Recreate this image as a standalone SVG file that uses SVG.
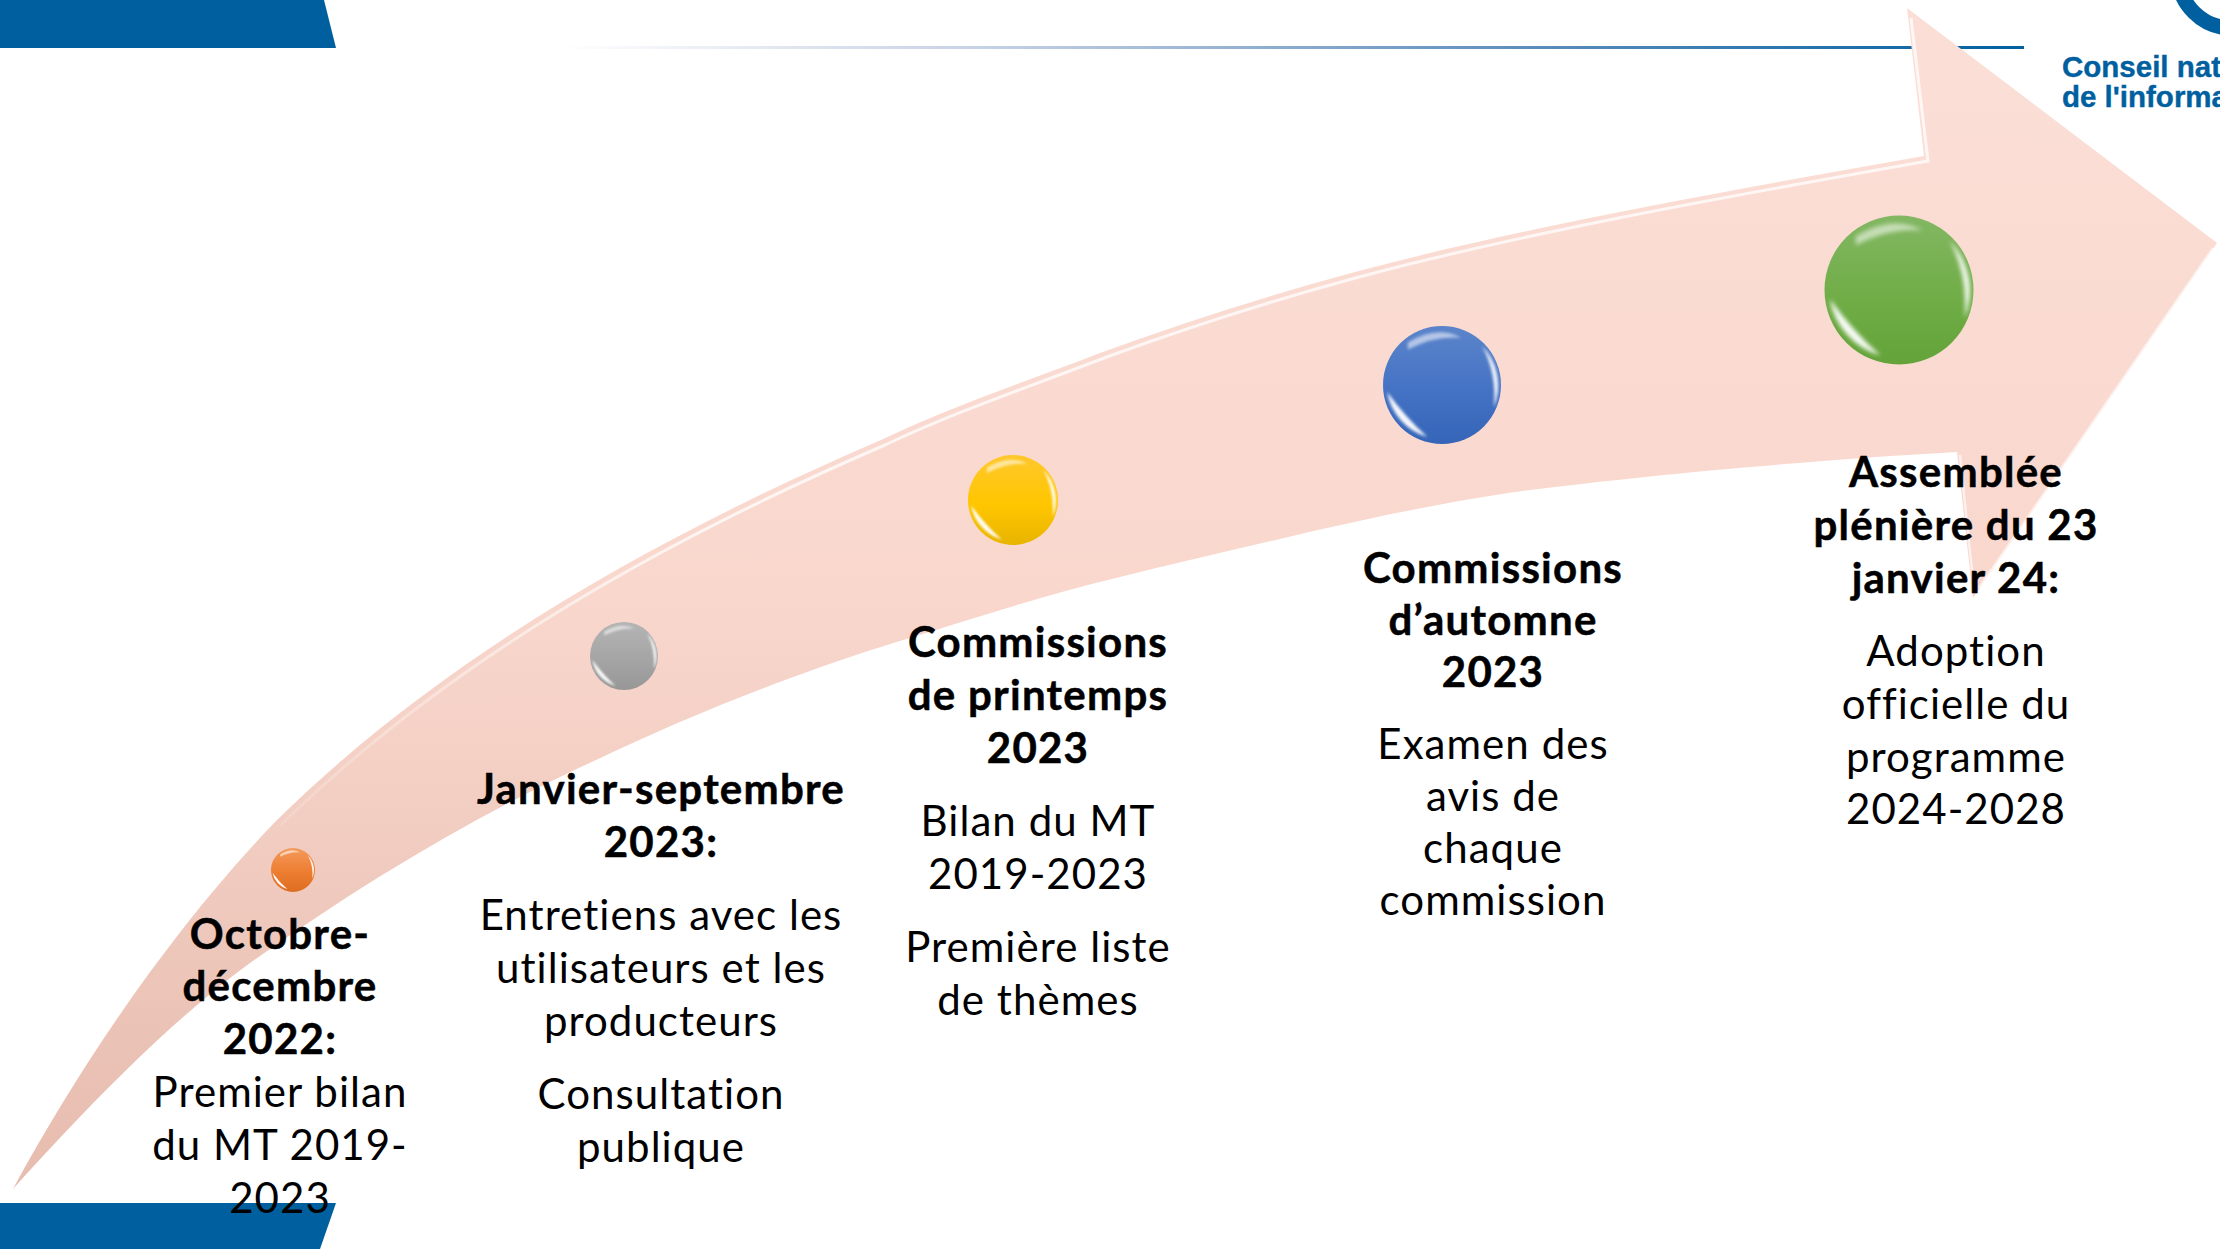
<svg xmlns="http://www.w3.org/2000/svg" width="2220" height="1249" viewBox="0 0 2220 1249">
<style>
.t{font-family:"Lato","Carlito","Liberation Sans",sans-serif;font-size:42px;text-anchor:middle;fill:#000;letter-spacing:1.050px;font-variant-ligatures:none;transform:translateY(1px)}
.b{font-weight:700;letter-spacing:1.250px;stroke:#000;stroke-width:.5}
.l{font-family:"Liberation Sans",Arial,sans-serif;font-weight:700;font-size:29.500px;fill:#00609f;stroke:#00609f;stroke-width:.4}
.hl{fill:none;stroke:url(#hlg);stroke-width:3}
.hl2{fill:none;stroke:#fff;stroke-opacity:.6;stroke-width:2.500}
</style>
<defs>
<linearGradient id="hlg" gradientUnits="userSpaceOnUse" x1="200" y1="0" x2="700" y2="0"><stop offset="0" stop-color="#fff" stop-opacity="0"/><stop offset="1" stop-color="#fff" stop-opacity=".75"/></linearGradient>
<linearGradient id="ag" x1="0" y1="0" x2="0" y2="1"><stop offset="0" stop-color="#fbdfd7"/><stop offset="0.5" stop-color="#f9d7cd"/><stop offset="1" stop-color="#e6bcae"/></linearGradient>
<linearGradient id="rule" x1="0" y1="0" x2="1" y2="0"><stop offset="0" stop-color="#fff"/><stop offset="0.3" stop-color="#c3cfe3"/><stop offset="0.65" stop-color="#5f8fbd"/><stop offset="1" stop-color="#00609f"/></linearGradient>
<linearGradient id="go" x1="0" y1="0" x2="0" y2="1"><stop offset="0" stop-color="#f49a5c"/><stop offset=".55" stop-color="#ed7d31"/><stop offset="1" stop-color="#dd6d20"/></linearGradient>
<linearGradient id="gs" x1="0" y1="0" x2="0" y2="1"><stop offset="0" stop-color="#b4b4b4"/><stop offset=".55" stop-color="#a5a5a5"/><stop offset="1" stop-color="#979797"/></linearGradient>
<linearGradient id="gy" x1="0" y1="0" x2="0" y2="1"><stop offset="0" stop-color="#ffc82c"/><stop offset=".55" stop-color="#ffc600"/><stop offset="1" stop-color="#e8b400"/></linearGradient>
<linearGradient id="gb" x1="0" y1="0" x2="0" y2="1"><stop offset="0" stop-color="#5b84ca"/><stop offset=".55" stop-color="#4472c4"/><stop offset="1" stop-color="#3565b8"/></linearGradient>
<linearGradient id="gg" x1="0" y1="0" x2="0" y2="1"><stop offset="0" stop-color="#83b763"/><stop offset=".55" stop-color="#70ad47"/><stop offset="1" stop-color="#63a339"/></linearGradient>
<filter id="soft" x="-20%" y="-20%" width="140%" height="140%"><feGaussianBlur stdDeviation=".025"/></filter>
<g id="gloss" fill="#fff" filter="url(#soft)">
<path opacity=".95" d="M-.93 .12A.97 .97 0 0 0 -.25 .88Q-.62 .55 -.93 .12Z"/>
<path opacity=".55" d="M-.58 -.72Q-.08 -1.02 .32 -.8Q-.12 -.84 -.58 -.6Z"/>
<path opacity=".9" d="M.68 -.66A.96 .96 0 0 1 .88 .38Q.93 -.2 .68 -.66Z"/>
</g>
</defs>
<rect width="2220" height="1249" fill="#fff"/>
<path id="topbar" d="M0 0H324L336 48H0Z" fill="#00609f"/>
<path id="bottombar" d="M0 1203H336L320 1249H0Z" fill="#00609f"/>
<rect id="rule-line" x="560" y="46" width="1464" height="3" fill="url(#rule)"/>
<g id="logo">
<circle cx="2232" cy="-26" r="54" fill="none" stroke="#00609f" stroke-width="15"/>
<text class="l" x="2062" y="77">Conseil national</text>
<text class="l" x="2062" y="107">de l'information</text>
</g>
<g id="arrow">
<path d="M13 1189C80 1065 175 925 277 820C445 655 660 535 881 440C955 405 1025 382 1100 353C1185 322 1270 295 1355 272C1520 228 1720 192 1924 156L1907 8L2217 243L1973 598L1957 452C1830 459 1640 475 1508 493C1430 505 1360 520 1284 538C1230 551 1175 563 1120 577C1045 595 975 618 903 640C790 675 690 715 596 760C470 818 360 885 250 963C165 1025 80 1115 13 1189Z" fill="url(#ag)"/>
<path class="hl" d="M281 825C449 660 664 540 885 445C959 410 1029 387 1104 358C1189 327 1274 300 1359 277C1524 233 1724 197 1928 161L1911 18"/>
<path class="hl2" d="M1960 455L1974 590M1979 588L2213 248"/>
</g>
<g id="n1"><circle cx="293" cy="870" r="22" fill="url(#go)"/><use href="#gloss" transform="translate(293 870) scale(22)"/>
<text class="t b" x="280" y="948">Octobre-</text><text class="t b" x="280" y="1000">décembre</text><text class="t b" x="280" y="1053">2022:</text>
<text class="t" x="280" y="1106">Premier bilan</text><text class="t" x="280" y="1159">du MT 2019-</text><text class="t" x="280" y="1212">2023</text></g>
<g id="n2"><circle cx="624" cy="656" r="34" fill="url(#gs)"/><use href="#gloss" transform="translate(624 656) scale(34)"/>
<text class="t b" x="661" y="803">Janvier-septembre</text><text class="t b" x="661" y="856">2023:</text>
<text class="t" x="661" y="929">Entretiens avec les</text><text class="t" x="661" y="982">utilisateurs et les</text><text class="t" x="661" y="1035">producteurs</text>
<text class="t" x="661" y="1108">Consultation</text><text class="t" x="661" y="1161">publique</text></g>
<g id="n3"><circle cx="1013" cy="500" r="45" fill="url(#gy)"/><use href="#gloss" transform="translate(1013 500) scale(45)"/>
<text class="t b" x="1038" y="656">Commissions</text><text class="t b" x="1038" y="709">de printemps</text><text class="t b" x="1038" y="762">2023</text>
<text class="t" x="1038" y="835">Bilan du MT</text><text class="t" x="1038" y="888">2019-2023</text>
<text class="t" x="1038" y="961">Première liste</text><text class="t" x="1038" y="1014">de thèmes</text></g>
<g id="n4"><circle cx="1442" cy="385" r="59" fill="url(#gb)"/><use href="#gloss" transform="translate(1442 385) scale(59)"/>
<text class="t b" x="1493" y="582">Commissions</text><text class="t b" x="1493" y="634">d’automne</text><text class="t b" x="1493" y="686">2023</text>
<text class="t" x="1493" y="758">Examen des</text><text class="t" x="1493" y="810">avis de</text><text class="t" x="1493" y="862">chaque</text><text class="t" x="1493" y="914">commission</text></g>
<g id="n5"><circle cx="1899" cy="290" r="74.500" fill="url(#gg)"/><use href="#gloss" transform="translate(1899 290) scale(74.500)"/>
<text class="t b" x="1956" y="486">Assemblée</text><text class="t b" x="1956" y="539">plénière du 23</text><text class="t b" x="1956" y="592">janvier 24:</text>
<text class="t" x="1956" y="665">Adoption</text><text class="t" x="1956" y="718">officielle du</text><text class="t" x="1956" y="771">programme</text><text class="t" x="1956" y="823">2024-2028</text></g>
</svg>
